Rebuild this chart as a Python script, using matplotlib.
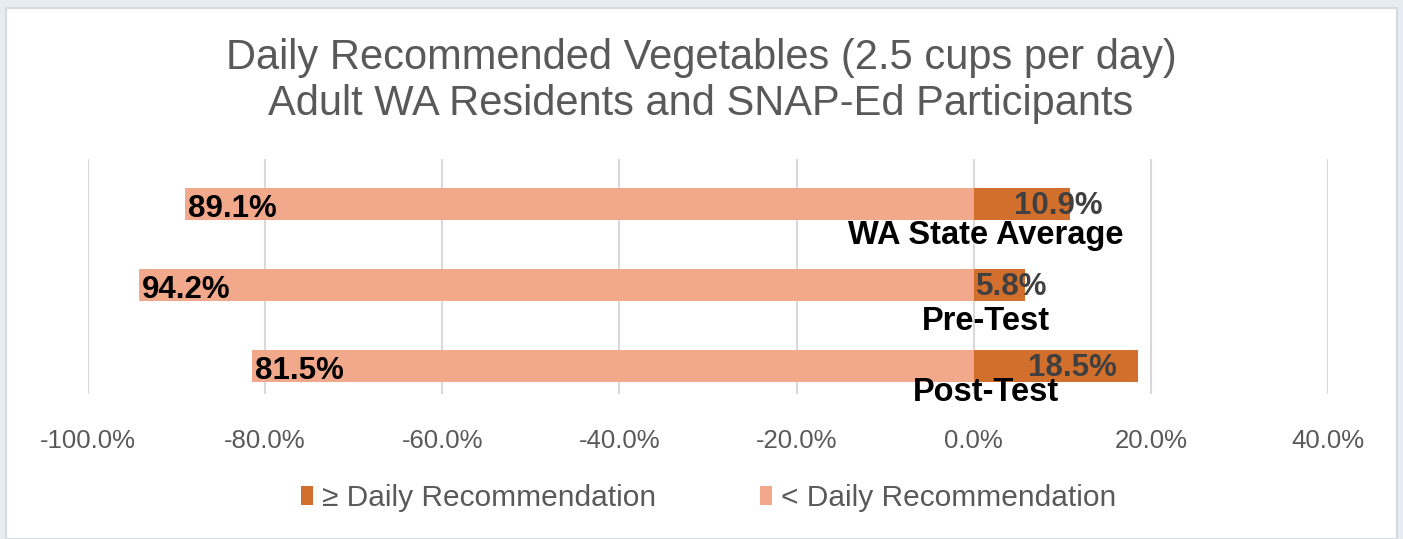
import numpy as np
import matplotlib
matplotlib.use("Agg")
import matplotlib.pyplot as plt
from matplotlib.patches import Rectangle

plt.rcParams['font.family'] = ['Liberation Sans', 'DejaVu Sans']

# data
groups = ['WA State Average', 'Pre-Test', 'Post-Test']
meets = [10.9, 5.8, 18.5]        # >= daily recommendation (%)
below = [89.1, 94.2, 81.5]       # < daily recommendation (%)
ticks = [-100, -80, -60, -40, -20, 0, 20, 40]

dark = '#D36F2C'
light = '#F2A88A'
grey = '#595959'

fig = plt.figure(figsize=(14.03, 5.39), dpi=100, facecolor='#E6ECF2')
# white chart panel
fig.patches.append(Rectangle((6 / 1403, 0), 1391 / 1403, 531 / 539, transform=fig.transFigure,
                             facecolor='white', edgecolor='#D6D9DD', lw=1.5, zorder=-10))

ax = fig.add_axes([88 / 1403, 145 / 539, 1240 / 1403, 235 / 539])
ax.set_facecolor('none')

y = np.arange(len(groups))
ax.barh(y, meets, height=0.395, color=dark, zorder=2, label='\u2265 Daily Recommendation')
ax.barh(y, [-v for v in below], height=0.395, color=light, zorder=2, label='< Daily Recommendation')

ax.set_xlim(-100, 40)
ax.set_ylim(2.346, -0.556)
ax.set_xticks(ticks)
ax.set_xticklabels(['%.1f%%' % t for t in ticks], fontsize=18.5, color=grey)
ax.set_yticks([])
ax.tick_params(axis='x', length=0, pad=25)
ax.grid(axis='x', color='#D9D9D9', lw=1.5, zorder=0)
for s in ax.spines.values():
    s.set_visible(False)

# value labels
for i, v in enumerate(below):
    ax.annotate('%.1f%%' % v, (-v, i), xytext=(3, -5), textcoords='offset pixels',
                ha='left', va='center', fontsize=22.5, fontweight='bold', color='black', zorder=3)

meet_dx = [-12, -13, -65]
for i, v in enumerate(meets):
    ax.annotate('%.1f%%' % v, (v, i), xytext=(meet_dx[i], -2), textcoords='offset pixels',
                ha='center', va='center', fontsize=22.5, fontweight='bold', color='#404040', zorder=3)

# category labels under the bars
name_dy = [40, 45, 35]
for i, g in enumerate(groups):
    ax.annotate(g, (1.35, i), xytext=(0, -name_dy[i]), textcoords='offset pixels',
                ha='center', va='baseline', fontsize=23.5, fontweight='bold', color='black', zorder=3)

fig.text(0.4997, 1 - 58 / 539, 'Daily Recommended Vegetables (2.5 cups per day)',
         ha='center', va='center', fontsize=30, color=grey)
fig.text(0.4997, 1 - 104 / 539, 'Adult WA Residents and SNAP-Ed Participants',
         ha='center', va='center', fontsize=30, color=grey)

fig.legend(loc='center', bbox_to_anchor=(0.505, 41 / 539), ncol=2, frameon=False,
           fontsize=21.5, labelcolor=grey, handlelength=0.4, handleheight=0.6,
           handletextpad=0.3, columnspacing=3.5)

fig.savefig('out.png', dpi=100, facecolor=fig.get_facecolor())
